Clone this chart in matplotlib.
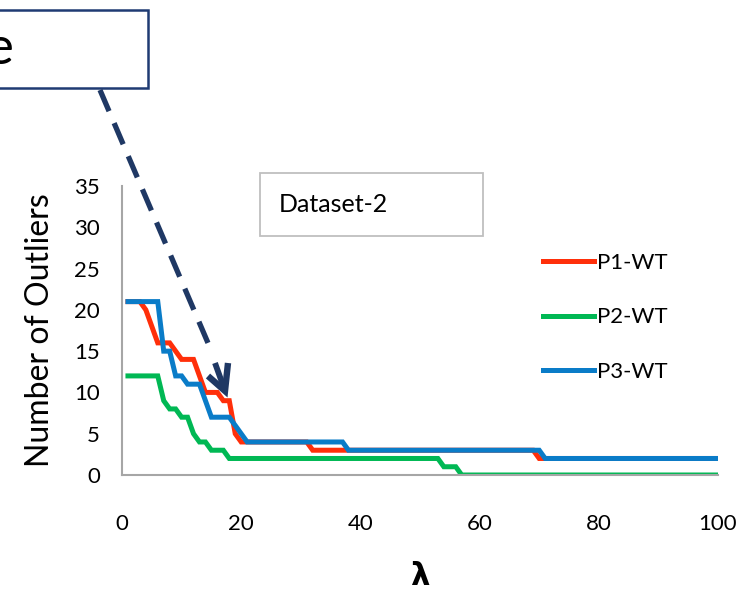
import matplotlib.pyplot as plt
from matplotlib.patches import Rectangle
from matplotlib.lines import Line2D

plt.rcParams['font.family'] = ['Lato', 'DejaVu Sans']

# vertices of the step curves (lambda, number of outliers)
p1_x = [1, 3, 4, 5, 6, 8, 9, 10, 12, 13, 14, 16, 17, 18, 19, 20, 31, 32, 69, 70, 100]
p1_y = [21, 21, 20, 18, 16, 16, 15, 14, 14, 12, 10, 10, 9, 9, 5, 4, 4, 3, 3, 2, 2]

p2_x = [1, 6, 7, 8, 9, 10, 11, 12, 13, 14, 15, 17, 18, 53, 54, 56, 57, 100]
p2_y = [12, 12, 9, 8, 8, 7, 7, 5, 4, 4, 3, 3, 2, 2, 1, 1, 0, 0]

p3_x = [1, 6, 7, 8, 9, 10, 11, 13, 14, 15, 18, 19, 20, 21, 37, 38, 70, 71, 100]
p3_y = [21, 21, 15, 15, 12, 12, 11, 11, 9, 7, 7, 6, 5, 4, 4, 3, 3, 2, 2]

labels = ['P1-WT', 'P2-WT', 'P3-WT']
colors = ['#ff2f0a', '#00b854', '#0a7cc8']
xticks = [0, 20, 40, 60, 80, 100]
yticks = [0, 5, 10, 15, 20, 25, 30, 35]

W, H = 746, 591
fig = plt.figure(figsize=(W / 100, H / 100), dpi=100)

# overlay in pixel coords for the callout boxes and arrow
ov = fig.add_axes([0, 0, 1, 1])
ov.set_xlim(0, W)
ov.set_ylim(H, 0)
ov.axis('off')

ax = fig.add_axes([122 / W, 1 - 475 / H, (718 - 122) / W, (475 - 186) / H])
ax.patch.set_alpha(0)

for xs, ys, lab, c in zip([p1_x, p2_x, p3_x], [p1_y, p2_y, p3_y], labels, colors):
    ax.plot(xs, ys, color=c, lw=3.6, label=lab, solid_joinstyle='miter')

ax.set_xlim(0, 100)
ax.set_ylim(0, 35)
ax.set_xticks(xticks)
ax.set_yticks(yticks)
ax.tick_params(length=0, labelsize=16, colors='black')
ax.tick_params(axis='x', pad=28)
ax.tick_params(axis='y', pad=16)
for s in ['top', 'right']:
    ax.spines[s].set_visible(False)
for s in ['left', 'bottom']:
    ax.spines[s].set_color('#a6a6a6')
    ax.spines[s].set_linewidth(1.5)

ax.set_ylabel('Number of Outliers', fontsize=23, labelpad=14)
ax.set_xlabel('λ', fontsize=22, fontweight='bold', labelpad=20, family='DejaVu Sans')

ax.legend(frameon=False, loc='upper left', bbox_to_anchor=(543 / W, 1 - 253 / H),
          bbox_transform=fig.transFigure, fontsize=16, handlelength=2.3,
          handletextpad=0.15, labelspacing=1.55, borderpad=0, borderaxespad=0)

# Dataset-2 box
ov.add_patch(Rectangle((260, 173), 223, 63, fill=True, fc='white', ec='#bfbfbf', lw=1.3, zorder=3))
ov.text(279, 205, 'Dataset-2', fontsize=18, va='center', ha='left', zorder=4)

# top-left callout box (cut off)
ov.add_patch(Rectangle((-10, 10), 158, 78, fill=False, ec='#1f3b73', lw=1.8))
ov.text(14, 50, 'e', fontsize=38, va='center', ha='right')

# dashed arrow with open head
navy = '#1f3864'
ov.add_line(Line2D([100, 208], [90, 343], color=navy, lw=3.8, ls=(0, (4.36, 2.46))))
ov.add_line(Line2D([215, 224], [363, 388], color=navy, lw=4.2, solid_capstyle='butt'))
ov.add_line(Line2D([208, 225, 228], [376, 391, 363], color=navy, lw=4.6,
                   solid_joinstyle='miter', solid_capstyle='butt'))

fig.savefig('out.png', dpi=100)
